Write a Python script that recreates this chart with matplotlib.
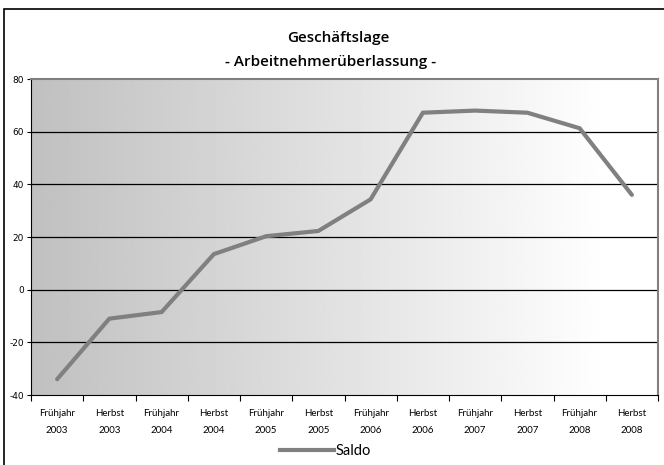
import numpy as np
import matplotlib
matplotlib.use("Agg")
import matplotlib.pyplot as plt
from matplotlib.patches import Rectangle
from matplotlib.lines import Line2D

# Halbjahreswerte (Saldo) der Geschäftslage
seasons = ["Frühjahr", "Herbst"] * 6
years = ["2003", "2003", "2004", "2004", "2005", "2005",
         "2006", "2006", "2007", "2007", "2008", "2008"]
saldo = [-34, -11, -8.5, 13.5, 20.3, 22.3, 34.3, 67.2, 68, 67.2, 61.3, 36]
y_ticks = [-40, -20, 0, 20, 40, 60, 80]

labels = [f"{s}\n{y}" for s, y in zip(seasons, years)]
x = np.arange(len(saldo))

fig = plt.figure(figsize=(6.64, 4.65), dpi=100)
fig.patch.set_facecolor("white")

# Rahmen um das ganze Diagramm (rechts/unten abgeschnitten)
fig.patches.append(Rectangle((4 / 664, -0.1), 1.2, 1 - 9 / 465 + 0.1,
                             transform=fig.transFigure, fill=False,
                             edgecolor="black", linewidth=1.2, zorder=0))

ax = fig.add_axes([31 / 664, 1 - 395 / 465, 627 / 664, 316 / 465])
ax.set_xlim(-0.5, len(saldo) - 0.5)
ax.set_ylim(-40, 80)

# Hintergrund: Verlauf grau -> weiß
grad = np.linspace(0, 1, 400)
shade = np.clip(192 + (255 - 192) * grad / 0.92, 0, 255) / 255
img = np.tile(shade, (2, 1))
ax.imshow(img, cmap="gray", vmin=0, vmax=1, aspect="auto",
          extent=(-0.5, len(saldo) - 0.5, -40, 80), zorder=0,
          interpolation="bilinear")

for v in y_ticks[1:-1]:
    ax.axhline(v, color="black", linewidth=0.9, zorder=1)

ax.plot(x, saldo, color="#808080", linewidth=3.0, solid_capstyle="round",
        solid_joinstyle="miter", zorder=3)

ax.set_yticks(y_ticks)
ax.set_yticklabels([str(v) for v in y_ticks], fontsize=6.5,
                   family="DejaVu Sans")
ax.set_xticks(x)
ax.set_xticklabels(labels, fontsize=7, family="Lato", linespacing=2.2)
ax.set_xticks(np.arange(-0.5, len(saldo), 1), minor=True)
ax.tick_params(axis="x", which="major", length=0, pad=10)
ax.tick_params(axis="x", which="minor", length=4, width=0.8, direction="out")
ax.tick_params(axis="y", length=3, width=0.8, pad=2)

ax.spines["left"].set_color("black")
ax.spines["bottom"].set_color("black")
ax.spines["top"].set_color("#808080")
ax.spines["right"].set_color("#808080")
for sp in ("top", "right"):
    ax.spines[sp].set_linewidth(1.5)

fig.text(338 / 664, 1 - 38 / 465, "Geschäftslage", ha="center", va="center",
         fontsize=11, family="Open Sans", fontweight="semibold")
fig.text(331 / 664, 1 - 62 / 465, "- Arbeitnehmerüberlassung -", ha="center",
         va="center", fontsize=11, family="Open Sans", fontweight="semibold")

handle = Line2D([], [], color="#808080", linewidth=3.0)
fig.legend([handle], ["Saldo"], loc="center", bbox_to_anchor=(0.49, 1 - 451 / 465),
           frameon=False, handlelength=3.7, handletextpad=0.15,
           prop={"family": "Lato", "size": 10.5})

fig.savefig("out.png", dpi=100)
